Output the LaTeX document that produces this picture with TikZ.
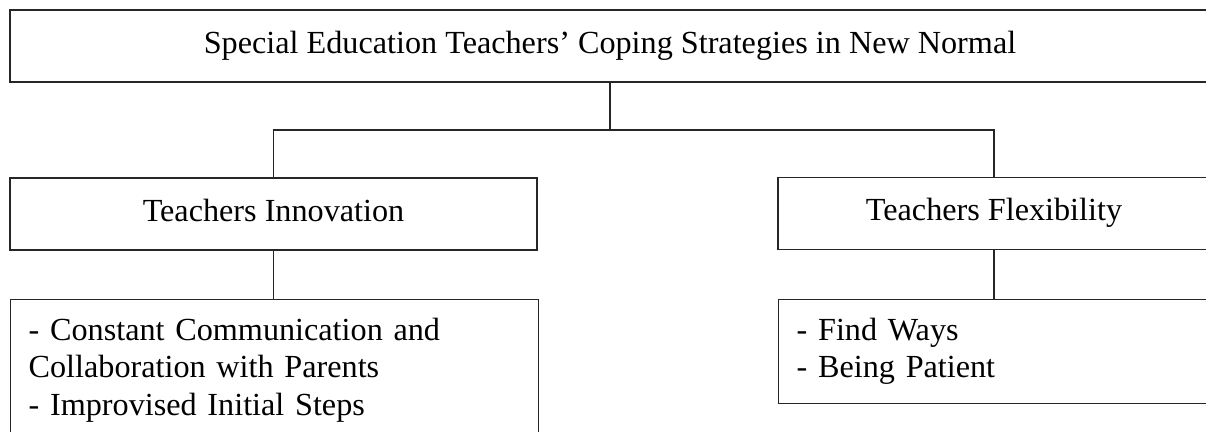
\documentclass[tikz,border=0pt]{standalone}
\usepackage{fontspec}
\setmainfont{Liberation Serif}
\begin{document}
\begin{tikzpicture}[x=0.5pt,y=-0.5pt,
  box/.style={draw=black!85, line width=0.65pt, inner sep=0pt, font=\fontsize{16.1}{18.75}\selectfont},
  titlebox/.style={box, text height=11pt, text depth=3.5pt, minimum height=36pt},
  listbox/.style={box, anchor=north west, align=left, inner xsep=9pt, inner ysep=7.2pt},
  link/.style={draw=black!85, line width=0.65pt}]
\useasboundingbox (0,0) rectangle (1206,432);
\clip (0,0) rectangle (1206,432);
\node[titlebox, minimum width=600pt] (top) at (610,46) {Special Education Teachers’ Coping Strategies in New Normal};
\node[titlebox, minimum width=263.5pt] (inn) at (273.5,214) {Teachers Innovation};
\node[titlebox, minimum width=216pt] (flex) at (994,213.5) {Teachers Flexibility};
\node[listbox, text width=246pt] (innc) at (10,299) {\strut- Constant Communication and\\Collaboration with Parents\\- Improvised Initial Steps\strut};
\node[listbox, text width=198pt] (flexc) at (778,299) {\strut- Find Ways\\- Being Patient\strut};
\coordinate (j) at (610,130);
\draw[link] (top.south) -- (j);
\draw[link] (inn.north) |- (j) -| (flex.north);
\draw[link] (inn.south) -- (inn.south |- innc.north);
\draw[link] (flex.south) -- (flex.south |- flexc.north);
\end{tikzpicture}
\end{document}
